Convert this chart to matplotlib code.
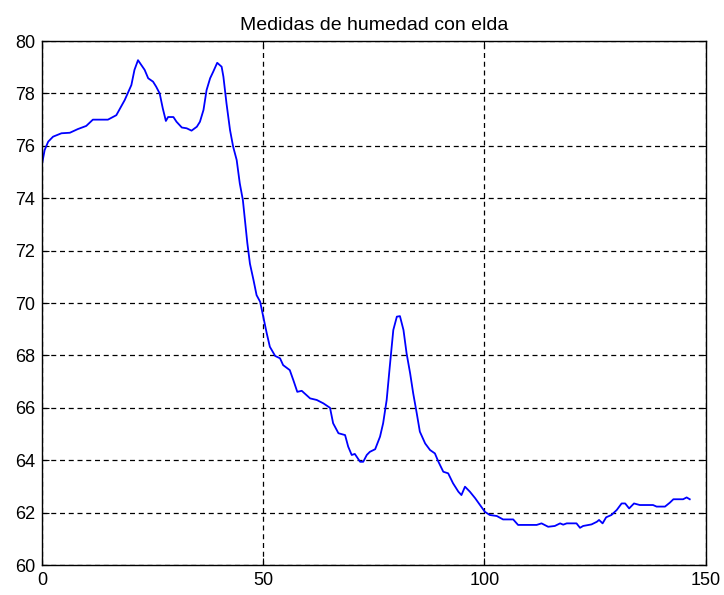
from matplotlib import pyplot as plt
import numpy as np

# points
muestra = [
    0, 0.6, 1.4, 2.5, 4.4, 6.3, 8.1, 10.0, 11.5, 14.9, 16.8, 18.7, 20.2, 20.9,
    21.7, 23.2, 24.0, 25.1, 25.8, 26.6, 27.3, 28.0, 28.5, 29.7, 30.4, 31.6,
    32.7, 33.8, 35.0, 35.7, 36.5, 37.2, 38.0, 38.7, 39.6, 40.6, 41.0, 41.7,
    42.5, 43.2, 44.0, 44.7, 45.4, 45.9, 46.4, 47.0, 47.8, 48.5, 49.3, 50.0,
    50.8, 51.5, 52.7, 53.8, 54.5, 56.0, 56.8, 57.7, 58.7, 60.6, 62.1, 63.6,
    65.1, 65.8, 67.0, 68.5, 69.2, 70.0, 70.7, 71.9, 72.6, 73.4, 74.1, 75.3,
    76.4, 77.1, 77.9, 78.6, 79.4, 80.2, 80.9, 81.7, 82.4, 83.2, 83.9, 84.7,
    85.4, 86.6, 87.7, 88.8, 89.6, 90.7, 91.8, 92.9, 94.1, 94.8, 95.6, 96.7,
    97.9, 99.0, 100.1, 101.2, 102.8, 104.2, 106.5, 107.6, 111.8, 112.9, 114.4,
    115.9, 117.1, 117.8, 118.6, 120.8, 121.6, 122.3, 124.2, 125.4, 125.9,
    126.7, 127.5, 128.7, 129.9, 131.0, 131.8, 132.7, 133.8, 135.1, 138.1,
    138.9, 140.8, 141.9, 142.7, 144.9, 145.7, 146.4,
]
humedad = [
    75.3, 75.84, 76.16, 76.35, 76.48, 76.5, 76.64, 76.76, 77.0, 77.0, 77.17,
    77.75, 78.32, 78.9, 79.27, 78.9, 78.58, 78.45, 78.26, 78.0, 77.43, 76.95,
    77.1, 77.1, 76.92, 76.7, 76.67, 76.58, 76.73, 76.92, 77.37, 78.13, 78.58,
    78.83, 79.17, 79.02, 78.64, 77.62, 76.6, 75.97, 75.46, 74.57, 73.93, 73.1,
    72.3, 71.5, 70.88, 70.3, 70.05, 69.48, 68.84, 68.33, 67.98, 67.89, 67.63,
    67.44, 67.06, 66.61, 66.65, 66.36, 66.3, 66.17, 66.0, 65.41, 65.03, 64.96,
    64.52, 64.2, 64.24, 63.94, 63.94, 64.2, 64.32, 64.42, 64.9, 65.41, 66.3,
    67.57, 68.97, 69.48, 69.5, 68.97, 68.08, 67.32, 66.55, 65.79, 65.09,
    64.64, 64.39, 64.26, 63.94, 63.56, 63.5, 63.12, 62.8, 62.67, 62.99, 62.8,
    62.55, 62.29, 62.03, 61.91, 61.87, 61.74, 61.74, 61.53, 61.53, 61.59,
    61.46, 61.49, 61.59, 61.54, 61.59, 61.59, 61.42, 61.49, 61.55, 61.65,
    61.72, 61.59, 61.82, 61.91, 62.1, 62.35, 62.35, 62.16, 62.35, 62.29,
    62.29, 62.23, 62.23, 62.38, 62.51, 62.51, 62.58, 62.51,
]

xticks = [0, 50, 100, 150]
yticks = [60, 62, 64, 66, 68, 70, 72, 74, 76, 78, 80]

plt.rcParams["font.family"] = ["Liberation Sans", "DejaVu Sans"]

fig = plt.figure(figsize=(7.24, 5.95), dpi=100)
ax = fig.add_axes([0.058, 0.0504, 0.9167, 0.8806])

ax.plot(muestra, humedad, color="#0000ff", lw=1.3)

ax.set_xlim(0, 150)
ax.set_ylim(60, 80)
ax.set_xticks(xticks)
ax.set_yticks(yticks)
ax.grid(True, color="black", linestyle=(0, (4, 3)), linewidth=0.9)
ax.tick_params(direction="in", top=True, right=True, length=5, labelsize=13, pad=5)
for s in ax.spines.values():
    s.set_linewidth(1.0)

ax.set_title("Medidas de humedad con elda", fontsize=14, pad=8)

fig.savefig("out.png", dpi=100)
